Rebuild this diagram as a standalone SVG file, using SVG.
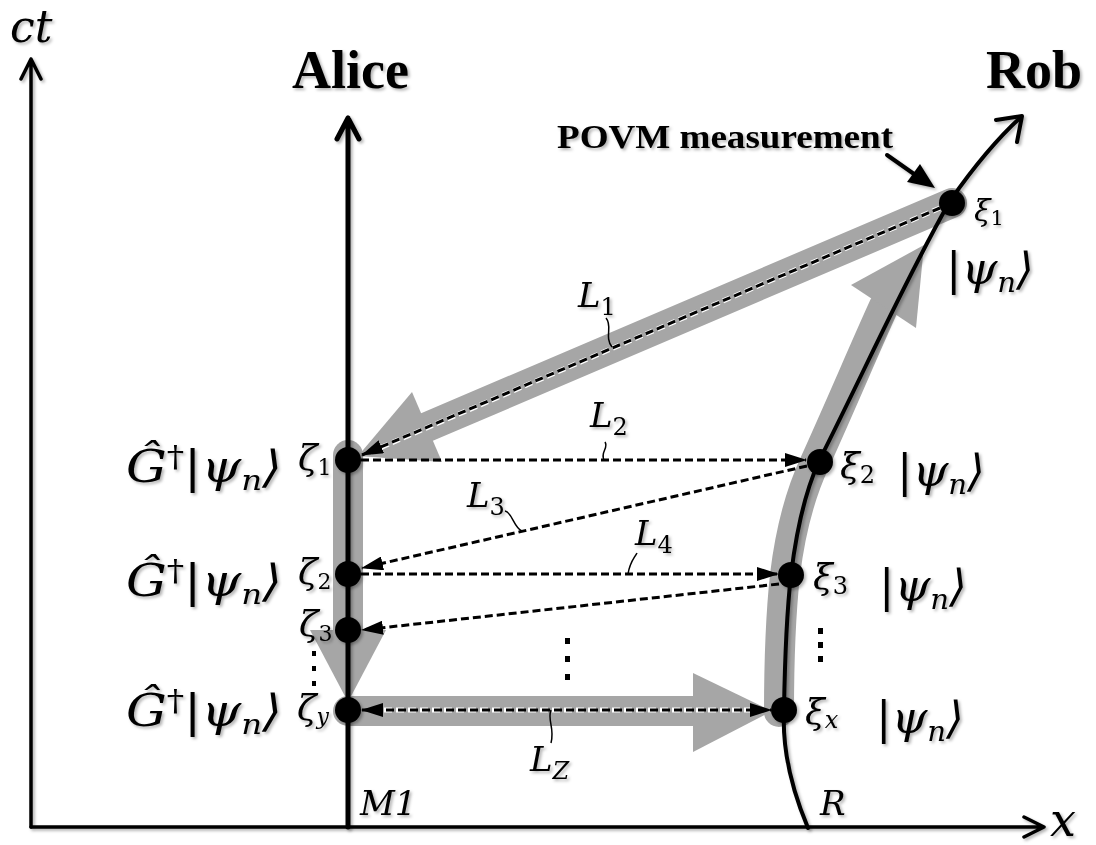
<svg xmlns="http://www.w3.org/2000/svg" width="1096" height="845" viewBox="0 0 1096 845">
<defs>
<style>
.band{stroke:#a6a6a6;stroke-width:30;fill:none;stroke-linecap:round}
.bh{fill:#a6a6a6}
.ln{stroke:#000;fill:none;stroke-linecap:round;stroke-linejoin:round}
.dash{stroke:#000;stroke-width:3;stroke-dasharray:8 4;fill:none}
.halo{stroke:#fff;stroke-width:5;stroke-dasharray:8 4;fill:none}
.m{font-family:"DejaVu Serif","Liberation Serif",serif;font-style:italic;fill:#000}
.u{font-style:normal}
.b{font-family:"Liberation Serif","Times New Roman",serif;font-weight:bold;fill:#000}
.lead{stroke:#000;stroke-width:1.5;fill:none}
</style>
<filter id="sh" filterUnits="userSpaceOnUse" x="0" y="0" width="1096" height="845">
<feDropShadow dx="2" dy="2" stdDeviation="1.5" flood-color="#000" flood-opacity="0.3"/>
</filter>
<marker id="ah" viewBox="0 0 22 14" refX="21" refY="7" markerWidth="22" markerHeight="14" markerUnits="userSpaceOnUse" orient="auto-start-reverse">
<path d="M0 0 L22 7 L0 14 Z" fill="#000"/>
</marker>
</defs>
<rect width="1096" height="845" fill="#fff"/>

<g id="bands">
<line class="band" x1="952" y1="203" x2="427" y2="427"/>
<polygon class="bh" points="358,456 442,462 412,392"/>
<line class="band" x1="348" y1="455" x2="348" y2="632"/>
<polygon class="bh" points="310,630 386,630 348,702"/>
<line class="band" x1="348" y1="711" x2="694" y2="711"/>
<polygon class="bh" points="693,673 693,752 772,711"/>
<path class="band" d="M 779 712 C 779 650, 781 612, 785 575 C 791 525, 801 492, 815 462 C 843 400, 864 350, 884 306"/>
<polygon class="bh" points="851,285 916,328 924,245"/>
</g>

<g id="axes" filter="url(#sh)">
<path class="ln" stroke-width="3.5" d="M 31 827 L 31 59 M 21 79 L 31 59 L 41 79"/>
<path class="ln" stroke-width="3.5" d="M 31 827 L 1044 827 M 1024 817 L 1044 827 L 1024 837"/>
<text class="m" x="10" y="42" font-size="44">ct</text>
<text class="m" x="1050" y="836" font-size="46">x</text>
</g>

<g id="alice" filter="url(#sh)">
<path class="ln" stroke-width="5" d="M 348 827 L 348 118 M 337 139 L 348 118 L 359 139"/>
<text class="b" x="292" y="88" font-size="54">Alice</text>
<text class="m" x="360" y="815" font-size="34">M1</text>
</g>

<g id="rob" filter="url(#sh)">
<path class="ln" stroke-width="4" d="M 808 828 C 792 790, 782 750, 784 710 C 785 650, 787 610, 791 575 C 797 525, 806 490, 819 461 C 865 370, 905 280, 950 201 C 975 165, 998 138, 1021 117"/>
<path class="ln" stroke-width="4" d="M 996 120 L 1022 116 L 1017 142"/>
<text class="b" x="986" y="88" font-size="54">Rob</text>
<text class="m" x="820" y="815" font-size="34">R</text>
</g>

<g id="povm" filter="url(#sh)">
<text class="b" x="557" y="148" font-size="34" textLength="336" lengthAdjust="spacingAndGlyphs">POVM measurement</text>
<line class="ln" stroke-width="4" x1="887" y1="155" x2="914" y2="174"/>
<polygon points="935,188 907,182 920,164" fill="#000"/>
</g>

<g id="connectors">
<path class="halo" d="M 940 208 L 368 453"/>
<path class="dash" marker-end="url(#ah)" d="M 940 208 L 362 455"/>
<path class="dash" marker-end="url(#ah)" d="M 361 460 L 806 460"/>
<path class="dash" marker-end="url(#ah)" d="M 807 466 L 362 568"/>
<path class="dash" marker-end="url(#ah)" d="M 361 574 L 778 574"/>
<path class="dash" marker-end="url(#ah)" d="M 779 584 L 362 630"/>
<path class="halo" d="M 372 710 L 762 710"/>
<path class="dash" marker-start="url(#ah)" marker-end="url(#ah)" d="M 362 710 L 771 710"/>
<path class="lead" d="M 606 318 C 613 326, 604 337, 612 347"/>
<path class="lead" d="M 605 442 C 609 448, 600 452, 604 460"/>
<path class="lead" d="M 505 511 C 512 512, 514 528, 522 531"/>
<path class="lead" d="M 637 553 C 633 560, 630 562, 628 574"/>
<path class="lead" d="M 551 710 C 547 720, 555 728, 551 743"/>
</g>

<g id="labels-L" filter="url(#sh)">
<text class="m" x="578" y="307" font-size="34">L<tspan class="u" font-size="24" dy="8">1</tspan></text>
<text class="m" x="590" y="427" font-size="34">L<tspan class="u" font-size="24" dy="8">2</tspan></text>
<text class="m" x="467" y="507" font-size="34">L<tspan class="u" font-size="24" dy="8">3</tspan></text>
<text class="m" x="635" y="545" font-size="34">L<tspan class="u" font-size="24" dy="8">4</tspan></text>
<text class="m" x="530" y="771" font-size="34">L<tspan font-size="24" dy="8">Z</tspan></text>
</g>

<g id="dots">
<rect x="312" y="651" width="4" height="5"/>
<rect x="312" y="666" width="4" height="5"/>
<rect x="312" y="681" width="4" height="5"/>
<rect x="565" y="638" width="5" height="6"/>
<rect x="565" y="656" width="5" height="6"/>
<rect x="565" y="674" width="5" height="6"/>
<rect x="818" y="628" width="5" height="6"/>
<rect x="818" y="642" width="5" height="6"/>
<rect x="818" y="656" width="5" height="6"/>
</g>

<g id="zeta1" filter="url(#sh)">
<circle cx="348" cy="460" r="13"/>
<text class="m" x="298" y="470" font-size="36">ζ<tspan class="u" font-size="22" dy="5">1</tspan></text>
<text class="m" x="126" y="482" font-size="44" textLength="156" lengthAdjust="spacingAndGlyphs">Ĝ<tspan class="u" font-size="30" dy="-15">†</tspan><tspan dy="15">|ψ</tspan><tspan font-size="28" dy="8">n</tspan><tspan dy="-8">⟩</tspan></text>
</g>
<g id="zeta2" filter="url(#sh)">
<circle cx="348" cy="574" r="13"/>
<text class="m" x="298" y="584" font-size="36">ζ<tspan class="u" font-size="22" dy="5">2</tspan></text>
<text class="m" x="126" y="596" font-size="44" textLength="156" lengthAdjust="spacingAndGlyphs">Ĝ<tspan class="u" font-size="30" dy="-15">†</tspan><tspan dy="15">|ψ</tspan><tspan font-size="28" dy="8">n</tspan><tspan dy="-8">⟩</tspan></text>
</g>
<g id="zeta3" filter="url(#sh)">
<circle cx="348" cy="630" r="13"/>
<text class="m" x="299" y="636" font-size="36">ζ<tspan class="u" font-size="22" dy="5">3</tspan></text>
</g>
<g id="zetay" filter="url(#sh)">
<circle cx="348" cy="710" r="13"/>
<text class="m" x="297" y="720" font-size="36">ζ<tspan font-size="22" dy="4">y</tspan></text>
<text class="m" x="126" y="726" font-size="44" textLength="156" lengthAdjust="spacingAndGlyphs">Ĝ<tspan class="u" font-size="30" dy="-15">†</tspan><tspan dy="15">|ψ</tspan><tspan font-size="28" dy="8">n</tspan><tspan dy="-8">⟩</tspan></text>
</g>

<g id="xi1" filter="url(#sh)">
<circle cx="952" cy="203" r="13"/>
<text class="m" x="974" y="221" font-size="30">ξ<tspan class="u" font-size="21" dy="4">1</tspan></text>
<text class="m" x="946" y="284" font-size="44" textLength="88" lengthAdjust="spacingAndGlyphs">|ψ<tspan font-size="28" dy="8">n</tspan><tspan dy="-8">⟩</tspan></text>
</g>
<g id="xi2" filter="url(#sh)">
<circle cx="820" cy="462" r="13"/>
<text class="m" x="840" y="478" font-size="36">ξ<tspan class="u" font-size="24" dy="5">2</tspan></text>
<text class="m" x="897" y="486" font-size="44" textLength="88" lengthAdjust="spacingAndGlyphs">|ψ<tspan font-size="28" dy="8">n</tspan><tspan dy="-8">⟩</tspan></text>
</g>
<g id="xi3" filter="url(#sh)">
<circle cx="791" cy="575" r="13"/>
<text class="m" x="813" y="589" font-size="36">ξ<tspan class="u" font-size="24" dy="5">3</tspan></text>
<text class="m" x="879" y="601" font-size="44" textLength="88" lengthAdjust="spacingAndGlyphs">|ψ<tspan font-size="28" dy="8">n</tspan><tspan dy="-8">⟩</tspan></text>
</g>
<g id="xix" filter="url(#sh)">
<circle cx="784" cy="710" r="13"/>
<text class="m" x="805" y="724" font-size="36">ξ<tspan font-size="24" dy="4">x</tspan></text>
<text class="m" x="876" y="733" font-size="44" textLength="88" lengthAdjust="spacingAndGlyphs">|ψ<tspan font-size="28" dy="8">n</tspan><tspan dy="-8">⟩</tspan></text>
</g>
</svg>
